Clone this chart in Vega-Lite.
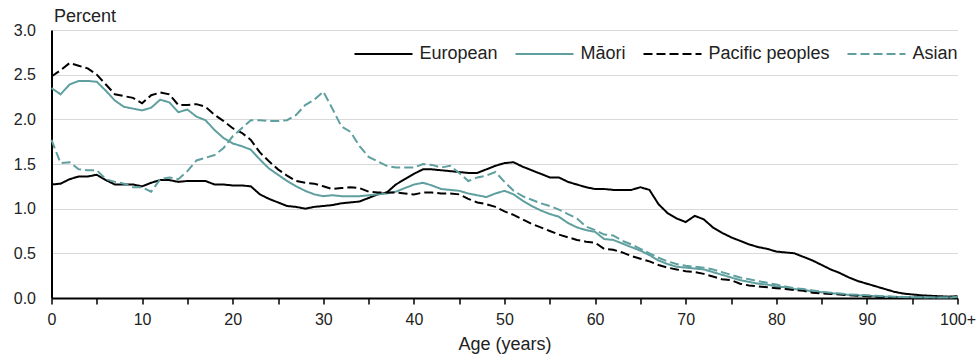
{
"$schema":"https://vega.github.io/schema/vega-lite/v6.json",
"width":906,"height":268,
"autosize":{"type":"none"},
"padding":{"left":51.5,"top":30,"right":22.5,"bottom":65},
"background":"white",
"config":{"view":{"stroke":null},"font":"Liberation Sans"},
"datasets":{"rows":[
{"age":0,"group":"European","pct":1.27},{"age":1,"group":"European","pct":1.28},{"age":2,"group":"European","pct":1.33},{"age":3,"group":"European","pct":1.36},{"age":4,"group":"European","pct":1.36},{"age":5,"group":"European","pct":1.38},{"age":6,"group":"European","pct":1.32},{"age":7,"group":"European","pct":1.27},{"age":8,"group":"European","pct":1.27},{"age":9,"group":"European","pct":1.27},{"age":10,"group":"European","pct":1.25},{"age":11,"group":"European","pct":1.29},{"age":12,"group":"European","pct":1.32},{"age":13,"group":"European","pct":1.32},{"age":14,"group":"European","pct":1.30},{"age":15,"group":"European","pct":1.31},{"age":16,"group":"European","pct":1.31},{"age":17,"group":"European","pct":1.31},{"age":18,"group":"European","pct":1.27},{"age":19,"group":"European","pct":1.27},{"age":20,"group":"European","pct":1.26},{"age":21,"group":"European","pct":1.26},{"age":22,"group":"European","pct":1.25},{"age":23,"group":"European","pct":1.16},{"age":24,"group":"European","pct":1.11},{"age":25,"group":"European","pct":1.07},{"age":26,"group":"European","pct":1.03},{"age":27,"group":"European","pct":1.02},{"age":28,"group":"European","pct":1.00},{"age":29,"group":"European","pct":1.02},{"age":30,"group":"European","pct":1.03},{"age":31,"group":"European","pct":1.04},{"age":32,"group":"European","pct":1.06},{"age":33,"group":"European","pct":1.07},{"age":34,"group":"European","pct":1.08},{"age":35,"group":"European","pct":1.12},{"age":36,"group":"European","pct":1.16},{"age":37,"group":"European","pct":1.18},{"age":38,"group":"European","pct":1.27},{"age":39,"group":"European","pct":1.33},{"age":40,"group":"European","pct":1.39},{"age":41,"group":"European","pct":1.44},{"age":42,"group":"European","pct":1.44},{"age":43,"group":"European","pct":1.43},{"age":44,"group":"European","pct":1.42},{"age":45,"group":"European","pct":1.41},{"age":46,"group":"European","pct":1.40},{"age":47,"group":"European","pct":1.40},{"age":48,"group":"European","pct":1.44},{"age":49,"group":"European","pct":1.48},{"age":50,"group":"European","pct":1.51},{"age":51,"group":"European","pct":1.52},{"age":52,"group":"European","pct":1.47},{"age":53,"group":"European","pct":1.43},{"age":54,"group":"European","pct":1.39},{"age":55,"group":"European","pct":1.35},{"age":56,"group":"European","pct":1.35},{"age":57,"group":"European","pct":1.30},{"age":58,"group":"European","pct":1.27},{"age":59,"group":"European","pct":1.24},{"age":60,"group":"European","pct":1.22},{"age":61,"group":"European","pct":1.22},{"age":62,"group":"European","pct":1.21},{"age":63,"group":"European","pct":1.21},{"age":64,"group":"European","pct":1.21},{"age":65,"group":"European","pct":1.24},{"age":66,"group":"European","pct":1.21},{"age":67,"group":"European","pct":1.05},{"age":68,"group":"European","pct":0.95},{"age":69,"group":"European","pct":0.89},{"age":70,"group":"European","pct":0.85},{"age":71,"group":"European","pct":0.92},{"age":72,"group":"European","pct":0.88},{"age":73,"group":"European","pct":0.79},{"age":74,"group":"European","pct":0.73},{"age":75,"group":"European","pct":0.68},{"age":76,"group":"European","pct":0.64},{"age":77,"group":"European","pct":0.60},{"age":78,"group":"European","pct":0.57},{"age":79,"group":"European","pct":0.55},{"age":80,"group":"European","pct":0.52},{"age":81,"group":"European","pct":0.51},{"age":82,"group":"European","pct":0.50},{"age":83,"group":"European","pct":0.46},{"age":84,"group":"European","pct":0.42},{"age":85,"group":"European","pct":0.37},{"age":86,"group":"European","pct":0.32},{"age":87,"group":"European","pct":0.28},{"age":88,"group":"European","pct":0.23},{"age":89,"group":"European","pct":0.19},{"age":90,"group":"European","pct":0.16},{"age":91,"group":"European","pct":0.13},{"age":92,"group":"European","pct":0.10},{"age":93,"group":"European","pct":0.07},{"age":94,"group":"European","pct":0.05},{"age":95,"group":"European","pct":0.04},{"age":96,"group":"European","pct":0.03},{"age":97,"group":"European","pct":0.025},{"age":98,"group":"European","pct":0.02},{"age":99,"group":"European","pct":0.015},{"age":100,"group":"European","pct":0.02},
{"age":0,"group":"Māori","pct":2.35},{"age":1,"group":"Māori","pct":2.28},{"age":2,"group":"Māori","pct":2.39},{"age":3,"group":"Māori","pct":2.43},{"age":4,"group":"Māori","pct":2.43},{"age":5,"group":"Māori","pct":2.42},{"age":6,"group":"Māori","pct":2.32},{"age":7,"group":"Māori","pct":2.21},{"age":8,"group":"Māori","pct":2.14},{"age":9,"group":"Māori","pct":2.12},{"age":10,"group":"Māori","pct":2.10},{"age":11,"group":"Māori","pct":2.13},{"age":12,"group":"Māori","pct":2.22},{"age":13,"group":"Māori","pct":2.19},{"age":14,"group":"Māori","pct":2.08},{"age":15,"group":"Māori","pct":2.11},{"age":16,"group":"Māori","pct":2.03},{"age":17,"group":"Māori","pct":1.99},{"age":18,"group":"Māori","pct":1.88},{"age":19,"group":"Māori","pct":1.79},{"age":20,"group":"Māori","pct":1.73},{"age":21,"group":"Māori","pct":1.70},{"age":22,"group":"Māori","pct":1.66},{"age":23,"group":"Māori","pct":1.55},{"age":24,"group":"Māori","pct":1.45},{"age":25,"group":"Māori","pct":1.38},{"age":26,"group":"Māori","pct":1.31},{"age":27,"group":"Māori","pct":1.25},{"age":28,"group":"Māori","pct":1.20},{"age":29,"group":"Māori","pct":1.16},{"age":30,"group":"Māori","pct":1.14},{"age":31,"group":"Māori","pct":1.15},{"age":32,"group":"Māori","pct":1.14},{"age":33,"group":"Māori","pct":1.14},{"age":34,"group":"Māori","pct":1.14},{"age":35,"group":"Māori","pct":1.15},{"age":36,"group":"Māori","pct":1.16},{"age":37,"group":"Māori","pct":1.17},{"age":38,"group":"Māori","pct":1.19},{"age":39,"group":"Māori","pct":1.23},{"age":40,"group":"Māori","pct":1.27},{"age":41,"group":"Māori","pct":1.29},{"age":42,"group":"Māori","pct":1.26},{"age":43,"group":"Māori","pct":1.22},{"age":44,"group":"Māori","pct":1.21},{"age":45,"group":"Māori","pct":1.20},{"age":46,"group":"Māori","pct":1.17},{"age":47,"group":"Māori","pct":1.15},{"age":48,"group":"Māori","pct":1.13},{"age":49,"group":"Māori","pct":1.17},{"age":50,"group":"Māori","pct":1.20},{"age":51,"group":"Māori","pct":1.16},{"age":52,"group":"Māori","pct":1.09},{"age":53,"group":"Māori","pct":1.03},{"age":54,"group":"Māori","pct":0.98},{"age":55,"group":"Māori","pct":0.94},{"age":56,"group":"Māori","pct":0.91},{"age":57,"group":"Māori","pct":0.84},{"age":58,"group":"Māori","pct":0.79},{"age":59,"group":"Māori","pct":0.76},{"age":60,"group":"Māori","pct":0.74},{"age":61,"group":"Māori","pct":0.66},{"age":62,"group":"Māori","pct":0.65},{"age":63,"group":"Māori","pct":0.61},{"age":64,"group":"Māori","pct":0.57},{"age":65,"group":"Māori","pct":0.53},{"age":66,"group":"Māori","pct":0.48},{"age":67,"group":"Māori","pct":0.42},{"age":68,"group":"Māori","pct":0.38},{"age":69,"group":"Māori","pct":0.35},{"age":70,"group":"Māori","pct":0.34},{"age":71,"group":"Māori","pct":0.33},{"age":72,"group":"Māori","pct":0.32},{"age":73,"group":"Māori","pct":0.29},{"age":74,"group":"Māori","pct":0.26},{"age":75,"group":"Māori","pct":0.23},{"age":76,"group":"Māori","pct":0.20},{"age":77,"group":"Māori","pct":0.18},{"age":78,"group":"Māori","pct":0.16},{"age":79,"group":"Māori","pct":0.15},{"age":80,"group":"Māori","pct":0.13},{"age":81,"group":"Māori","pct":0.12},{"age":82,"group":"Māori","pct":0.10},{"age":83,"group":"Māori","pct":0.09},{"age":84,"group":"Māori","pct":0.075},{"age":85,"group":"Māori","pct":0.065},{"age":86,"group":"Māori","pct":0.055},{"age":87,"group":"Māori","pct":0.045},{"age":88,"group":"Māori","pct":0.035},{"age":89,"group":"Māori","pct":0.03},{"age":90,"group":"Māori","pct":0.025},{"age":91,"group":"Māori","pct":0.02},{"age":92,"group":"Māori","pct":0.015},{"age":93,"group":"Māori","pct":0.012},{"age":94,"group":"Māori","pct":0.01},{"age":95,"group":"Māori","pct":0.008},{"age":96,"group":"Māori","pct":0.007},{"age":97,"group":"Māori","pct":0.006},{"age":98,"group":"Māori","pct":0.005},{"age":99,"group":"Māori","pct":0.005},{"age":100,"group":"Māori","pct":0.01},
{"age":0,"group":"Pacific peoples","pct":2.48},{"age":1,"group":"Pacific peoples","pct":2.55},{"age":2,"group":"Pacific peoples","pct":2.63},{"age":3,"group":"Pacific peoples","pct":2.60},{"age":4,"group":"Pacific peoples","pct":2.57},{"age":5,"group":"Pacific peoples","pct":2.50},{"age":6,"group":"Pacific peoples","pct":2.39},{"age":7,"group":"Pacific peoples","pct":2.28},{"age":8,"group":"Pacific peoples","pct":2.26},{"age":9,"group":"Pacific peoples","pct":2.24},{"age":10,"group":"Pacific peoples","pct":2.18},{"age":11,"group":"Pacific peoples","pct":2.27},{"age":12,"group":"Pacific peoples","pct":2.30},{"age":13,"group":"Pacific peoples","pct":2.28},{"age":14,"group":"Pacific peoples","pct":2.16},{"age":15,"group":"Pacific peoples","pct":2.16},{"age":16,"group":"Pacific peoples","pct":2.17},{"age":17,"group":"Pacific peoples","pct":2.14},{"age":18,"group":"Pacific peoples","pct":2.05},{"age":19,"group":"Pacific peoples","pct":1.98},{"age":20,"group":"Pacific peoples","pct":1.90},{"age":21,"group":"Pacific peoples","pct":1.85},{"age":22,"group":"Pacific peoples","pct":1.77},{"age":23,"group":"Pacific peoples","pct":1.63},{"age":24,"group":"Pacific peoples","pct":1.53},{"age":25,"group":"Pacific peoples","pct":1.44},{"age":26,"group":"Pacific peoples","pct":1.37},{"age":27,"group":"Pacific peoples","pct":1.31},{"age":28,"group":"Pacific peoples","pct":1.29},{"age":29,"group":"Pacific peoples","pct":1.28},{"age":30,"group":"Pacific peoples","pct":1.25},{"age":31,"group":"Pacific peoples","pct":1.22},{"age":32,"group":"Pacific peoples","pct":1.23},{"age":33,"group":"Pacific peoples","pct":1.24},{"age":34,"group":"Pacific peoples","pct":1.23},{"age":35,"group":"Pacific peoples","pct":1.19},{"age":36,"group":"Pacific peoples","pct":1.18},{"age":37,"group":"Pacific peoples","pct":1.18},{"age":38,"group":"Pacific peoples","pct":1.18},{"age":39,"group":"Pacific peoples","pct":1.17},{"age":40,"group":"Pacific peoples","pct":1.16},{"age":41,"group":"Pacific peoples","pct":1.18},{"age":42,"group":"Pacific peoples","pct":1.18},{"age":43,"group":"Pacific peoples","pct":1.17},{"age":44,"group":"Pacific peoples","pct":1.17},{"age":45,"group":"Pacific peoples","pct":1.16},{"age":46,"group":"Pacific peoples","pct":1.11},{"age":47,"group":"Pacific peoples","pct":1.07},{"age":48,"group":"Pacific peoples","pct":1.05},{"age":49,"group":"Pacific peoples","pct":1.02},{"age":50,"group":"Pacific peoples","pct":0.97},{"age":51,"group":"Pacific peoples","pct":0.93},{"age":52,"group":"Pacific peoples","pct":0.88},{"age":53,"group":"Pacific peoples","pct":0.83},{"age":54,"group":"Pacific peoples","pct":0.79},{"age":55,"group":"Pacific peoples","pct":0.75},{"age":56,"group":"Pacific peoples","pct":0.71},{"age":57,"group":"Pacific peoples","pct":0.68},{"age":58,"group":"Pacific peoples","pct":0.65},{"age":59,"group":"Pacific peoples","pct":0.63},{"age":60,"group":"Pacific peoples","pct":0.62},{"age":61,"group":"Pacific peoples","pct":0.55},{"age":62,"group":"Pacific peoples","pct":0.54},{"age":63,"group":"Pacific peoples","pct":0.51},{"age":64,"group":"Pacific peoples","pct":0.47},{"age":65,"group":"Pacific peoples","pct":0.44},{"age":66,"group":"Pacific peoples","pct":0.41},{"age":67,"group":"Pacific peoples","pct":0.37},{"age":68,"group":"Pacific peoples","pct":0.34},{"age":69,"group":"Pacific peoples","pct":0.32},{"age":70,"group":"Pacific peoples","pct":0.30},{"age":71,"group":"Pacific peoples","pct":0.29},{"age":72,"group":"Pacific peoples","pct":0.27},{"age":73,"group":"Pacific peoples","pct":0.24},{"age":74,"group":"Pacific peoples","pct":0.21},{"age":75,"group":"Pacific peoples","pct":0.20},{"age":76,"group":"Pacific peoples","pct":0.16},{"age":77,"group":"Pacific peoples","pct":0.14},{"age":78,"group":"Pacific peoples","pct":0.13},{"age":79,"group":"Pacific peoples","pct":0.12},{"age":80,"group":"Pacific peoples","pct":0.11},{"age":81,"group":"Pacific peoples","pct":0.10},{"age":82,"group":"Pacific peoples","pct":0.09},{"age":83,"group":"Pacific peoples","pct":0.08},{"age":84,"group":"Pacific peoples","pct":0.06},{"age":85,"group":"Pacific peoples","pct":0.05},{"age":86,"group":"Pacific peoples","pct":0.045},{"age":87,"group":"Pacific peoples","pct":0.04},{"age":88,"group":"Pacific peoples","pct":0.03},{"age":89,"group":"Pacific peoples","pct":0.025},{"age":90,"group":"Pacific peoples","pct":0.02},{"age":91,"group":"Pacific peoples","pct":0.015},{"age":92,"group":"Pacific peoples","pct":0.012},{"age":93,"group":"Pacific peoples","pct":0.01},{"age":94,"group":"Pacific peoples","pct":0.008},{"age":95,"group":"Pacific peoples","pct":0.006},{"age":96,"group":"Pacific peoples","pct":0.005},{"age":97,"group":"Pacific peoples","pct":0.004},{"age":98,"group":"Pacific peoples","pct":0.004},{"age":99,"group":"Pacific peoples","pct":0.003},{"age":100,"group":"Pacific peoples","pct":0.005},
{"age":0,"group":"Asian","pct":1.77},{"age":1,"group":"Asian","pct":1.51},{"age":2,"group":"Asian","pct":1.52},{"age":3,"group":"Asian","pct":1.44},{"age":4,"group":"Asian","pct":1.43},{"age":5,"group":"Asian","pct":1.43},{"age":6,"group":"Asian","pct":1.33},{"age":7,"group":"Asian","pct":1.30},{"age":8,"group":"Asian","pct":1.28},{"age":9,"group":"Asian","pct":1.24},{"age":10,"group":"Asian","pct":1.24},{"age":11,"group":"Asian","pct":1.19},{"age":12,"group":"Asian","pct":1.33},{"age":13,"group":"Asian","pct":1.35},{"age":14,"group":"Asian","pct":1.33},{"age":15,"group":"Asian","pct":1.42},{"age":16,"group":"Asian","pct":1.54},{"age":17,"group":"Asian","pct":1.57},{"age":18,"group":"Asian","pct":1.60},{"age":19,"group":"Asian","pct":1.68},{"age":20,"group":"Asian","pct":1.81},{"age":21,"group":"Asian","pct":1.90},{"age":22,"group":"Asian","pct":1.99},{"age":23,"group":"Asian","pct":1.99},{"age":24,"group":"Asian","pct":1.98},{"age":25,"group":"Asian","pct":1.98},{"age":26,"group":"Asian","pct":1.99},{"age":27,"group":"Asian","pct":2.05},{"age":28,"group":"Asian","pct":2.16},{"age":29,"group":"Asian","pct":2.22},{"age":30,"group":"Asian","pct":2.31},{"age":31,"group":"Asian","pct":2.12},{"age":32,"group":"Asian","pct":1.92},{"age":33,"group":"Asian","pct":1.86},{"age":34,"group":"Asian","pct":1.70},{"age":35,"group":"Asian","pct":1.58},{"age":36,"group":"Asian","pct":1.53},{"age":37,"group":"Asian","pct":1.48},{"age":38,"group":"Asian","pct":1.46},{"age":39,"group":"Asian","pct":1.46},{"age":40,"group":"Asian","pct":1.46},{"age":41,"group":"Asian","pct":1.50},{"age":42,"group":"Asian","pct":1.49},{"age":43,"group":"Asian","pct":1.46},{"age":44,"group":"Asian","pct":1.48},{"age":45,"group":"Asian","pct":1.40},{"age":46,"group":"Asian","pct":1.31},{"age":47,"group":"Asian","pct":1.35},{"age":48,"group":"Asian","pct":1.37},{"age":49,"group":"Asian","pct":1.41},{"age":50,"group":"Asian","pct":1.30},{"age":51,"group":"Asian","pct":1.20},{"age":52,"group":"Asian","pct":1.14},{"age":53,"group":"Asian","pct":1.10},{"age":54,"group":"Asian","pct":1.06},{"age":55,"group":"Asian","pct":1.03},{"age":56,"group":"Asian","pct":0.99},{"age":57,"group":"Asian","pct":0.94},{"age":58,"group":"Asian","pct":0.89},{"age":59,"group":"Asian","pct":0.80},{"age":60,"group":"Asian","pct":0.76},{"age":61,"group":"Asian","pct":0.71},{"age":62,"group":"Asian","pct":0.70},{"age":63,"group":"Asian","pct":0.64},{"age":64,"group":"Asian","pct":0.60},{"age":65,"group":"Asian","pct":0.55},{"age":66,"group":"Asian","pct":0.50},{"age":67,"group":"Asian","pct":0.45},{"age":68,"group":"Asian","pct":0.41},{"age":69,"group":"Asian","pct":0.38},{"age":70,"group":"Asian","pct":0.36},{"age":71,"group":"Asian","pct":0.35},{"age":72,"group":"Asian","pct":0.34},{"age":73,"group":"Asian","pct":0.32},{"age":74,"group":"Asian","pct":0.29},{"age":75,"group":"Asian","pct":0.26},{"age":76,"group":"Asian","pct":0.23},{"age":77,"group":"Asian","pct":0.21},{"age":78,"group":"Asian","pct":0.19},{"age":79,"group":"Asian","pct":0.17},{"age":80,"group":"Asian","pct":0.15},{"age":81,"group":"Asian","pct":0.13},{"age":82,"group":"Asian","pct":0.11},{"age":83,"group":"Asian","pct":0.10},{"age":84,"group":"Asian","pct":0.085},{"age":85,"group":"Asian","pct":0.07},{"age":86,"group":"Asian","pct":0.06},{"age":87,"group":"Asian","pct":0.05},{"age":88,"group":"Asian","pct":0.04},{"age":89,"group":"Asian","pct":0.035},{"age":90,"group":"Asian","pct":0.03},{"age":91,"group":"Asian","pct":0.025},{"age":92,"group":"Asian","pct":0.02},{"age":93,"group":"Asian","pct":0.015},{"age":94,"group":"Asian","pct":0.012},{"age":95,"group":"Asian","pct":0.01},{"age":96,"group":"Asian","pct":0.008},{"age":97,"group":"Asian","pct":0.007},{"age":98,"group":"Asian","pct":0.006},{"age":99,"group":"Asian","pct":0.005},{"age":100,"group":"Asian","pct":0.01}
]},
"data":{"name":"rows"},
"mark":{"type":"line","strokeWidth":2,"clip":false},
"encoding":{
"x":{"field":"age","type":"quantitative","scale":{"domain":[0,100],"nice":false,"zero":false},
"axis":{"values":[0,5,10,15,20,25,30,35,40,45,50,55,60,65,70,75,80,85,90,95,100],
"labelExpr":"datum.value % 10 === 0 ? (datum.value === 100 ? '100+' : datum.label) : ''",
"title":"Age (years)","grid":false,"domainColor":"#000000","domainWidth":2,"tickColor":"#000000","tickWidth":1.5,"tickSize":6,
"labelFontSize":16,"labelPadding":7,"labelColor":"#222222","labelFlush":false,"labelOverlap":false,"labelBound":false,
"titleFontSize":18,"titleFontWeight":"normal","titleColor":"#222222","titlePadding":8}},
"y":{"field":"pct","type":"quantitative","scale":{"domain":[0,3],"nice":false},
"axis":{"values":[0,0.5,1,1.5,2,2.5,3],"format":".1f","ticks":false,"labelPadding":16,"domainColor":"#000000","domainWidth":2,
"gridColor":"#d9d9d9","gridWidth":1,"labelFontSize":16,"labelColor":"#222222",
"title":"Percent","titleAngle":0,"titleAlign":"left","titleBaseline":"alphabetic","titleX":2,"titleY":-8.5,"titleFontWeight":"normal","titleFontSize":18,"titleColor":"#222222"}},
"color":{"field":"group","type":"nominal","sort":null,
"scale":{"domain":["European","Māori","Pacific peoples","Asian"],"range":["#000000","#5f9f9f","#000000","#5f9f9f"]},
"legend":{"title":null,"orient":"none","legendX":302,"legendY":-6,"direction":"horizontal","symbolType":"stroke","symbolSize":3364,"symbolStrokeWidth":2,"labelFontSize":18,"labelOffset":6,"columnPadding":13,"labelColor":"#222222"}},
"strokeDash":{"field":"group","type":"nominal","sort":null,
"scale":{"domain":["European","Māori","Pacific peoples","Asian"],"range":[[1,0],[1,0],[9,4],[9,4]]},
"legend":{"title":null,"orient":"none","legendX":302,"legendY":-6,"direction":"horizontal","symbolType":"stroke","symbolSize":3364,"symbolStrokeWidth":2,"labelFontSize":18,"labelOffset":6,"columnPadding":13,"labelColor":"#222222"}}
}
}
